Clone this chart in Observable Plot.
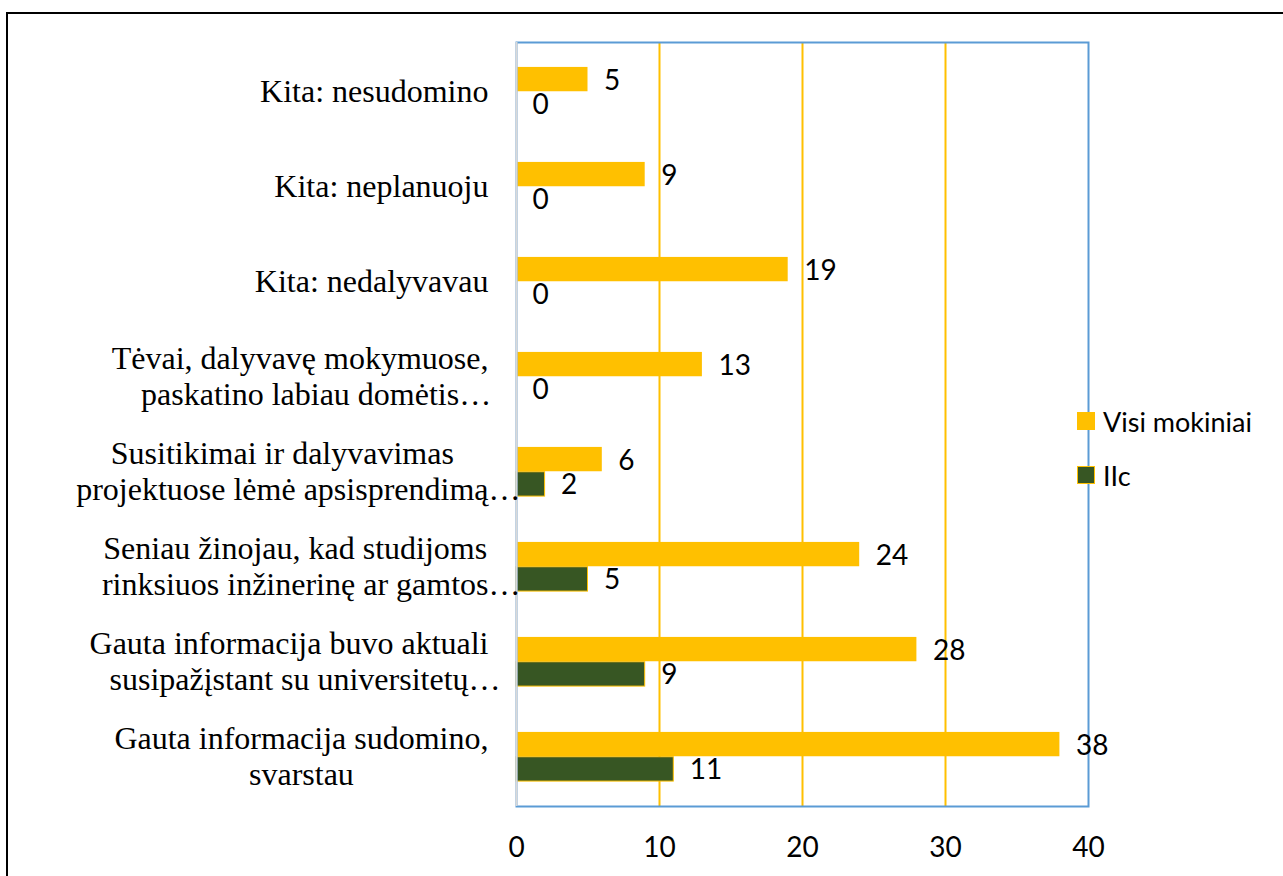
<!DOCTYPE html>
<html><head><meta charset="utf-8">
<script src="https://cdn.jsdelivr.net/npm/d3@7"></script>
<script src="https://cdn.jsdelivr.net/npm/@observablehq/plot@0.6"></script>
<style>
body{margin:0;background:#fff;}
#wrap{position:relative;width:1283px;height:876px;overflow:hidden;background:#fff;}
#chart{position:absolute;left:0;top:0;}
#border{position:absolute;left:6px;top:12px;width:1400px;height:1000px;border-top:2.5px solid #000;border-left:2.5px solid #000;pointer-events:none;}
.leg{position:absolute;font-family:Lato, sans-serif;font-size:27px;color:#000;display:flex;align-items:center;white-space:nowrap;}
.sw{display:inline-block;width:18px;height:18px;margin-right:8px;box-sizing:border-box;}
</style></head><body>
<div id="wrap"><div id="chart"></div><div id="border"></div>
<div id="legend"></div>
</div>
<script>
// ---- data ----
const categories = [
  "Kita: nesudomino",
  "Kita: neplanuoju",
  "Kita: nedalyvavau",
  "Tėvai, dalyvavę mokymuose,\npaskatino labiau domėtis…",
  "Susitikimai ir dalyvavimas\nprojektuose lėmė apsisprendimą…",
  "Seniau žinojau, kad studijoms\nrinksiuos inžinerinę ar gamtos…",
  "Gauta informacija buvo aktuali\nsusipažįstant su universitetų…",
  "Gauta informacija sudomino,\nsvarstau"
];
const seriesNames = ["Visi mokiniai", "IIc"];
const visiMokiniai = [5, 9, 19, 13, 6, 24, 28, 38];
const iic = [0, 0, 0, 0, 2, 5, 9, 11];
const xTicks = [0, 10, 20, 30, 40];
const gridTicks = [10, 20, 30];
const seriesColors = ["#FFC000", "#375623"];

// ---- table ----
const rows = categories.flatMap((c, i) => [
  {cat: c, series: seriesNames[0], value: visiMokiniai[i]},
  {cat: c, series: seriesNames[1], value: iic[i]}
]);
const rowsA = rows.filter(d => d.series === seriesNames[0]);
const rowsB = rows.filter(d => d.series === seriesNames[1]);

// ---- layout ----
const W = 1283, H = 876;
const mL = 516, mR = 195, mT = 42, mB = 70;
const band = (H - mT - mB) / categories.length;
const outerInset = band * 0.24, innerInset = band / 2;
const barH = innerInset - outerInset;

// category labels: lines centred (ignoring trailing ellipsis), widest line right edge at labelRight
const ctx = document.createElement("canvas").getContext("2d");
const serifFont = "Liberation Serif";
const serifSize = 32;
ctx.font = `${serifSize}px '${serifFont}'`;
const labelRight = 488, lineH = 36;
const labelMarks = [];
categories.forEach(cat => {
  const lines = cat.split("\n");
  const widths = lines.map(l => ctx.measureText(l.replace(/…$/, "")).width);
  const maxW = Math.max(...widths);
  const c = labelRight - maxW / 2;
  lines.forEach((line, i) => {
    labelMarks.push(Plot.text([cat], {
      y: d => d, text: () => line, frameAnchor: "left", textAnchor: "start",
      dx: c - widths[i] / 2 - mL, dy: (i - (lines.length - 1) / 2) * lineH,
      fontFamily: serifFont, fontSize: serifSize, fill: "#000"
    }));
  });
});

const chart = Plot.plot({
  width: W, height: H,
  marginLeft: mL, marginRight: mR, marginTop: mT, marginBottom: mB,
  style: {fontFamily: "Lato, sans-serif", color: "#000", background: "transparent"},
  x: {domain: [xTicks[0], xTicks[xTicks.length - 1]], label: null},
  y: {domain: categories, padding: 0, axis: null},
  color: {domain: seriesNames, range: seriesColors},
  marks: [
    Plot.ruleX(gridTicks, {stroke: "#FFC000", strokeWidth: 2}),
    Plot.barX(rowsA, {x: "value", y: "cat", fill: "series", insetTop: outerInset, insetBottom: innerInset}),
    Plot.barX(rowsB.filter(d => d.value > 0), {x: "value", y: "cat", fill: "series", stroke: "#FFC000", strokeWidth: 1, insetTop: innerInset, insetBottom: outerInset}),
    Plot.frame({stroke: "#5B9BD5", strokeWidth: 2}),
    Plot.ruleX([0], {stroke: "#D9D9D9", strokeWidth: 2}),
    Plot.text(rowsA, {x: "value", y: "cat", text: d => String(d.value), textAnchor: "start", dx: 16, dy: -barH / 2 + 1, fontSize: 28, fill: "#000"}),
    Plot.text(rowsB, {x: "value", y: "cat", text: d => String(d.value), textAnchor: "start", dx: 16, dy: barH / 2 + 1, fontSize: 28, fill: "#000"}),
    Plot.axisX(xTicks, {tickSize: 0, tickPadding: 31, fontSize: 28, label: null}),
    ...labelMarks
  ]
});
document.getElementById("chart").appendChild(chart);

// legend (HTML)
const legend = document.getElementById("legend");
const legendTops = [412, 466];
seriesNames.forEach((s, i) => {
  const item = document.createElement("div");
  item.className = "leg";
  item.style.left = "1077px";
  item.style.top = (legendTops[i] - 5) + "px";
  item.style.height = "28px";
  const sw = document.createElement("span");
  sw.className = "sw";
  sw.style.background = seriesColors[i];
  if (i === 1) sw.style.border = "1.5px solid #FFC000";
  item.appendChild(sw);
  item.appendChild(document.createTextNode(s));
  legend.appendChild(item);
});
</script>
</body></html>
